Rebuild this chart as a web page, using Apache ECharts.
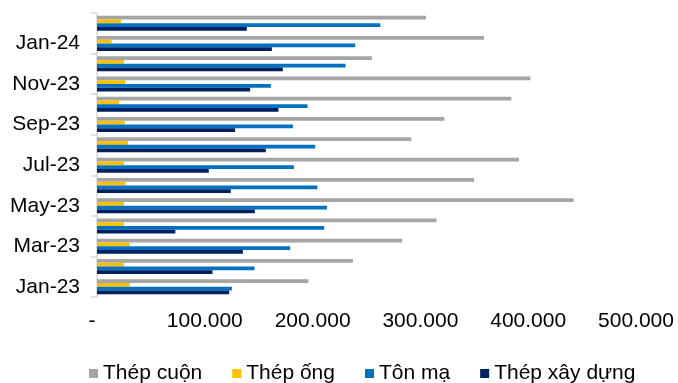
<!DOCTYPE html>
<html>
<head>
<meta charset="utf-8">
<script src="https://cdn.jsdelivr.net/npm/echarts@6/dist/echarts.min.js"></script>
<style>
  html, body { margin: 0; padding: 0; background: #ffffff; }
  #chart { width: 678px; height: 383px; }
</style>
</head>
<body>
<div id="chart"></div>
<script>
// Monthly volumes by product (tonnes), Jan-23 .. Feb-24
const months = ['Jan-23', 'Feb-23', 'Mar-23', 'Apr-23', 'May-23', 'Jun-23', 'Jul-23',
                'Aug-23', 'Sep-23', 'Oct-23', 'Nov-23', 'Dec-23', 'Jan-24', 'Feb-24'];

const thepCuon    = [196200, 237400, 283200, 315000, 442200, 349800, 391500,
                     291500, 322200, 384400, 402000, 255000, 359000, 305200];
const thepOng     = [30400, 25100, 30400, 24800, 25100, 26600, 25100,
                     28800, 25700, 20400, 26300, 25100, 13600, 22300];
const tonMa       = [125100, 146100, 179200, 210800, 213300, 204500, 182600,
                     202400, 181700, 195300, 161300, 230600, 239500, 262800];
const thepXayDung = [122600, 107100, 135300, 72700, 146400, 124100, 103700,
                     156600, 128100, 168300, 142100, 172400, 162200, 139000];

const seriesNames = ['Thép cuộn', 'Thép ống', 'Tôn mạ', 'Thép xây dựng'];
const seriesColors = ['#A5A5A5', '#FFC000', '#0070C0', '#002060'];
const seriesData = [thepCuon, thepOng, tonMa, thepXayDung];

const valueTicks = { min: 0, max: 500000, interval: 100000 };

// Accounting-style labels: dash for zero, dot as thousands separator
function formatValue(v) {
  if (v === 0) return '{zero|-}';
  return String(v).replace(/\B(?=(\d{3})+(?!\d))/g, '.');
}

const FONT = '"Liberation Sans", Arial, sans-serif';

const chart = echarts.init(document.getElementById('chart'), null, { renderer: 'canvas' });

chart.setOption({
  animation: false,
  backgroundColor: '#ffffff',
  textStyle: { fontFamily: FONT },
  grid: { left: 97, right: 42, top: 13, bottom: 86 },
  legend: {
    data: seriesNames,
    left: 84,
    top: 358,
    icon: 'rect',
    itemWidth: 9,
    itemHeight: 9,
    itemGap: 30,
    textStyle: { fontFamily: FONT, fontSize: 21, color: '#000000' }
  },
  xAxis: {
    type: 'value',
    min: valueTicks.min,
    max: valueTicks.max,
    interval: valueTicks.interval,
    axisLine: { show: false },
    axisTick: { show: false },
    splitLine: { show: false },
    axisLabel: {
      formatter: formatValue,
      fontFamily: FONT,
      fontSize: 21,
      color: '#000000',
      margin: 14,
      rich: {
        zero: { fontFamily: FONT, fontSize: 21, color: '#000000', padding: [0, 10, 0, 0] }
      }
    }
  },
  yAxis: {
    type: 'category',
    data: months,
    axisLine: { show: true, lineStyle: { color: '#D9D9D9', width: 1.5 } },
    axisTick: { show: true, interval: 1, length: 6, lineStyle: { color: '#D9D9D9', width: 1.5 } },
    axisLabel: {
      interval: 1,
      fontFamily: FONT,
      fontSize: 21,
      color: '#000000',
      margin: 17
    }
  },
  series: seriesNames.map((name, i) => ({
    name: name,
    type: 'bar',
    data: seriesData[i],
    barGap: '0%',
    barCategoryGap: '26%',
    clip: false,
    itemStyle: { color: seriesColors[i] }
  }))
});
</script>
</body>
</html>
